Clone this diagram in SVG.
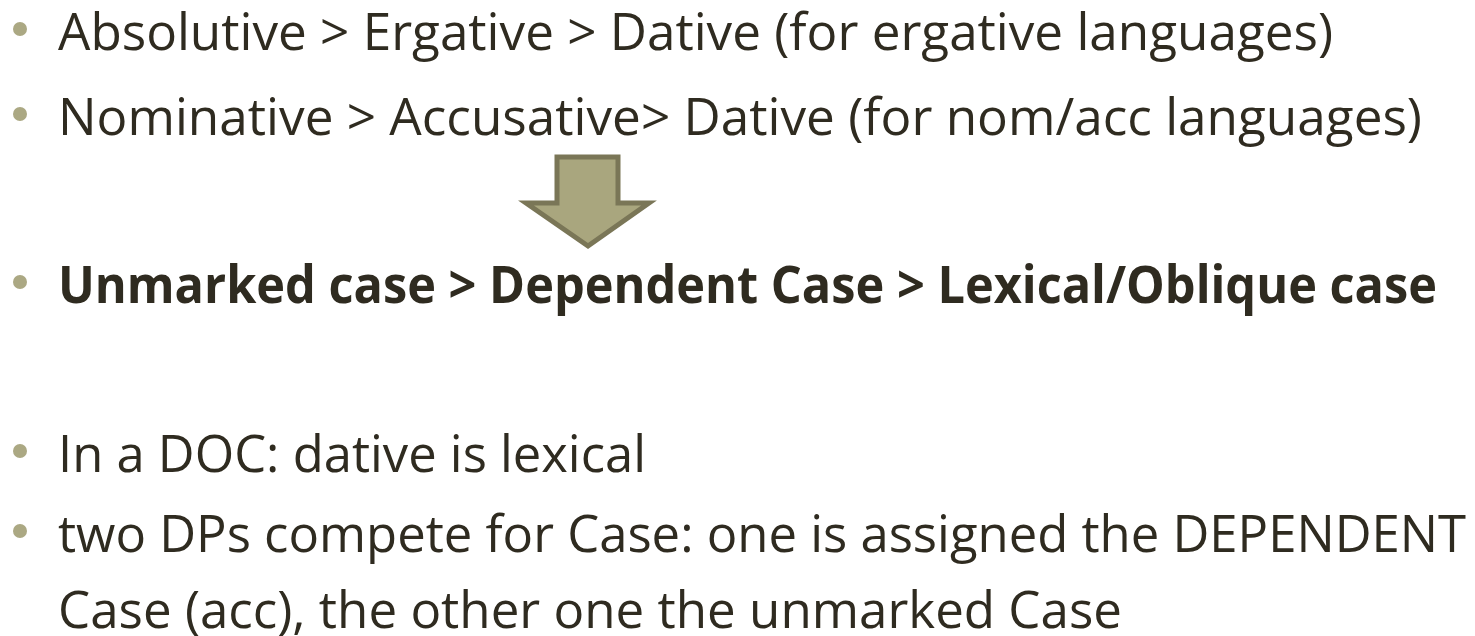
<svg xmlns="http://www.w3.org/2000/svg" width="1475" height="636" viewBox="0 0 1475 636">
  <style>
    .t { font-family: "Open Sans", "Noto Sans", sans-serif; font-size: 52px; fill: #2f2b20; }
    .b { font-weight: bold; }
    .dot { fill: #aba883; }
    .arrow { fill: #a9a67e; stroke: #7a7657; stroke-width: 5; stroke-linejoin: miter; }
  </style>
  <rect width="1475" height="636" fill="#ffffff"/>

  <g id="item-ergative">
    <circle class="dot" cx="20" cy="29" r="7"/>
    <text class="t" x="58" y="50" textLength="1275" lengthAdjust="spacingAndGlyphs">Absolutive &gt; Ergative &gt; Dative (for ergative languages)</text>
  </g>
  <g id="item-nomacc">
    <circle class="dot" cx="20" cy="114" r="7"/>
    <text class="t" x="58" y="135" textLength="1364" lengthAdjust="spacingAndGlyphs">Nominative &gt; Accusative&gt; Dative (for nom/acc languages)</text>
  </g>

  <g id="connectors">
    <polygon class="arrow" points="557,157 618,157 618,203 649,203 588,246 526,203 557,203"/>
  </g>

  <g id="item-hierarchy">
    <circle class="dot" cx="20" cy="282" r="7"/>
    <text class="t b" x="58" y="303" textLength="1379" lengthAdjust="spacingAndGlyphs">Unmarked case &gt; Dependent Case &gt; Lexical/Oblique case</text>
  </g>
  <g id="item-doc">
    <circle class="dot" cx="20" cy="451" r="7"/>
    <text class="t" x="58" y="472" textLength="588" lengthAdjust="spacingAndGlyphs">In a DOC: dative is lexical</text>
  </g>
  <g id="item-compete">
    <circle class="dot" cx="20" cy="531" r="7"/>
    <text class="t" x="58" y="552" textLength="1408" lengthAdjust="spacingAndGlyphs">two DPs compete for Case: one is assigned the DEPENDENT</text>
    <text class="t" x="58" y="628" textLength="1064" lengthAdjust="spacingAndGlyphs">Case (acc), the other one the unmarked Case</text>
  </g>
</svg>
